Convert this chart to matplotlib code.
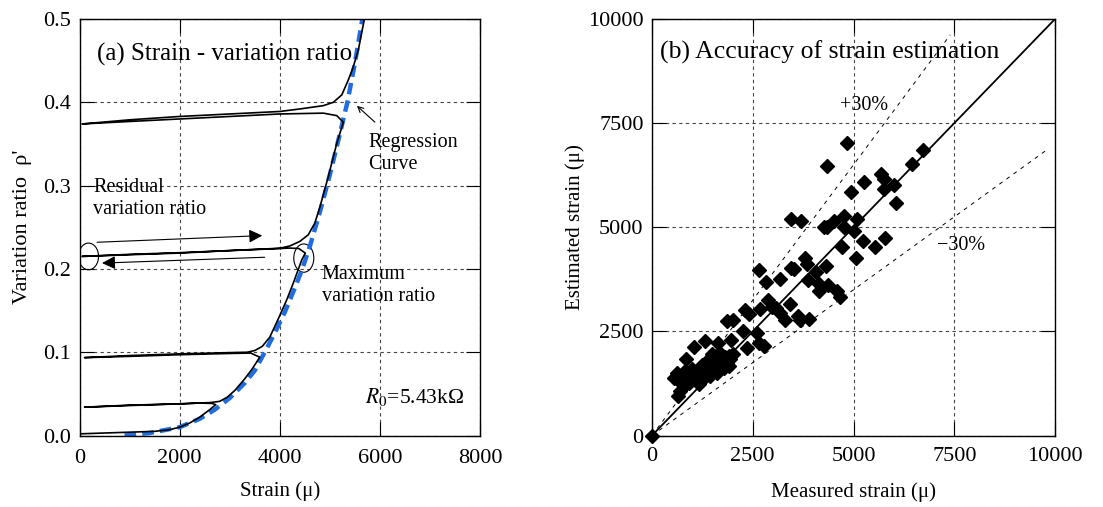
import matplotlib
matplotlib.use('Agg')
import matplotlib.pyplot as plt
from matplotlib.patches import Ellipse

plt.rcParams['font.family'] = ['Liberation Serif', 'DejaVu Serif']
plt.rcParams['mathtext.fontset'] = 'stix'

# ---------------------------------------------------------------------------
# (a) strain vs variation ratio -- measured loading / unloading path
# ---------------------------------------------------------------------------
strain_meas = [0, 500, 1000, 1500, 1800, 2000, 2200, 2400, 2600, 2720,
               2650, 2400, 2000, 1000, 100,
               1000, 2000, 2600, 2800, 2950, 3100, 3300, 3450, 3600,
               3420, 3000, 2000, 1000, 100,
               1000, 2000, 3000, 3350, 3500, 3650, 3800, 3970, 4140, 4270, 4440, 4510,
               4380, 4200, 3000, 2000, 1000, 50,
               1000, 2000, 3000, 4000, 4200, 4400, 4570, 4700, 4800, 4970, 5140, 5270,
               5140, 4870, 4000, 3000, 2000, 1000, 50,
               1000, 2000, 3000, 4000, 4400, 4870, 5070, 5240, 5370, 5470, 5570, 5690]
ratio_meas = [0.002, 0.003, 0.004, 0.005, 0.007, 0.010, 0.015, 0.022, 0.031, 0.037,
              0.0385, 0.039, 0.038, 0.036, 0.034,
              0.0365, 0.038, 0.0395, 0.041, 0.046, 0.054, 0.068, 0.080, 0.094,
              0.099, 0.0985, 0.097, 0.095, 0.0935,
              0.096, 0.098, 0.0995, 0.100, 0.102, 0.107, 0.118, 0.140, 0.163, 0.183, 0.211, 0.219,
              0.2245, 0.225, 0.222, 0.219, 0.217, 0.215,
              0.2175, 0.2195, 0.222, 0.2248, 0.2275, 0.233, 0.241, 0.255, 0.274, 0.311, 0.351, 0.376,
              0.384, 0.387, 0.386, 0.383, 0.380, 0.377, 0.374,
              0.379, 0.383, 0.386, 0.389, 0.392, 0.396, 0.400, 0.409, 0.427, 0.443, 0.463, 0.500]

# regression curve (blue dashed)
strain_reg = [900, 1400, 2000, 2400, 2700, 3000, 3300, 3500, 3700, 3900, 4100,
              4300, 4450, 4600, 4800, 5000, 5200, 5350, 5500, 5650]
ratio_reg = [0.0, 0.003, 0.010, 0.020, 0.031, 0.045, 0.063, 0.078, 0.100, 0.123, 0.148,
             0.177, 0.200, 0.227, 0.268, 0.313, 0.362, 0.400, 0.447, 0.500]

# ---------------------------------------------------------------------------
# (b) measured vs estimated strain
# ---------------------------------------------------------------------------
measured = [4835, 4339, 5264, 4926, 5686, 5769, 5760, 6017, 6058, 6446, 6719,
            3455, 3694, 4256, 4339, 4504, 4760, 4769, 5083, 5017, 5231, 5537, 5785, 4711,
            5058, 3802, 3843, 4074, 4314, 3860, 4132, 4364, 4149, 4587, 4653, 3455, 3512,
            2645, 2826, 3182, 2867, 2975, 3082, 3182, 3306, 3413, 3612, 3678, 3884, 2669,
            2397, 2314, 1860, 2004, 2256, 2355, 2603, 2661, 2769, 1959, 1628, 1322, 1033,
            851, 1488, 1529, 1694, 1818, 1942, 1901, 1777, 1612, 1446, 1364, 1198, 1116,
            992, 826, 620, 537, 661, 785, 702, 645, 909, 1157, 1281, 1694, 1860, 0,
            700, 800, 900, 1000, 1100, 1200, 1300, 1400, 1500, 1600, 1700, 1800, 1900,
            2000, 1250, 1450, 1550, 750]
estimated = [7030, 6460, 6084, 5851, 6284, 6148, 5907, 6003, 5594, 6509, 6846,
             5201, 5145, 5016, 5016, 5145, 5281, 5016, 5201, 4920, 4663, 4535, 4743, 4535,
             4255, 4271, 4111, 3934, 4071, 3726, 3630, 3614, 3470, 3470, 3333, 4014, 3990,
             3974, 3694, 3750, 3245, 3085, 3069, 2933, 2764, 3149, 2869, 2764, 2788, 3045,
             2909, 3013, 2748, 2764, 2508, 2107, 2468, 2212, 2147, 2292, 2228, 2268, 2123,
             1827, 1947, 1787, 1988, 1883, 1827, 1667, 1627, 1506, 1426, 1546, 1627, 1346,
             1466, 1546, 1506, 1386, 1306, 1186, 1066, 946, 1266, 1226, 1386, 1707, 1747, 0,
             1400, 1300, 1400, 1600, 1500, 1450, 1500, 1600, 1700, 1800, 1800, 1700, 1900,
             1950, 1700, 1850, 1650, 1450]

ref_x = [0, 10000]
ref_y = [0, 10000]
plus30_x = [0, 7400]
plus30_y = [0, 9620]
minus30_x = [0, 9800]
minus30_y = [0, 6860]

fig = plt.figure(figsize=(11.03, 5.07), dpi=100)
ax1 = fig.add_axes([0.0721, 0.141, 0.3631, 0.8215])
ax2 = fig.add_axes([0.5911, 0.141, 0.3654, 0.8215])

grid_kw = dict(color='#444444', linestyle=(0, (3, 3)), linewidth=0.8)
for ax in (ax1, ax2):
    ax.grid(True, **grid_kw)
    ax.set_axisbelow(True)
    ax.tick_params(direction='in', length=10, width=0.8, top=True, right=True,
                   labelsize=16, pad=6)
    for s in ax.spines.values():
        s.set_linewidth(1.0)
ax1.tick_params(axis='x', pad=10)
ax2.tick_params(axis='x', pad=8)

# ---- panel (a) ----
ax1.plot(strain_reg, ratio_reg, color='#1f6de0', linewidth=3.2,
         dashes=(2.6, 1.4), zorder=2)
ax1.plot(strain_meas, ratio_meas, color='black', linewidth=1.2, zorder=3)
ax1.set_xlim(0, 8000)
ax1.set_ylim(0, 0.5)
ax1.set_xticks([0, 2000, 4000, 6000, 8000])
ax1.set_yticks([0, 0.1, 0.2, 0.3, 0.4, 0.5])
ax1.set_yticklabels(['0.0', '0.1', '0.2', '0.3', '0.4', '0.5'])
ax1.set_xlabel('Strain (\u03bc)', fontsize=15, labelpad=9)
ax1.set_ylabel("Variation ratio  \u03c1'", fontsize=16, labelpad=8)

ax1.text(0.044, 0.914, '(a) Strain - variation ratio', transform=ax1.transAxes,
         fontsize=18, ha='left', va='center')
ax1.text(5763, 0.339, 'Regression\nCurve', fontsize=14.5, ha='left', va='center')
ax1.annotate('', xy=(5500, 0.398), xytext=(5940, 0.374),
             arrowprops=dict(arrowstyle='->', lw=0.8, color='black'))
ax1.text(270, 0.285, 'Residual\nvariation ratio', fontsize=14.5, ha='left', va='center')
ax1.text(4840, 0.180, 'Maximum\nvariation ratio', fontsize=14.5, ha='left', va='center')
ax1.text(5700, 0.046, r'$R_0$' + '=5.43k\u03a9', fontsize=15.5, ha='left', va='center')

ax1.annotate('', xy=(3650, 0.240), xytext=(350, 0.232),
             arrowprops=dict(arrowstyle='-|>', lw=0.8, color='black', mutation_scale=20,
                             shrinkA=0, shrinkB=0))
ax1.annotate('', xy=(450, 0.207), xytext=(3700, 0.214),
             arrowprops=dict(arrowstyle='-|>', lw=0.8, color='black', mutation_scale=20,
                             shrinkA=0, shrinkB=0))
ax1.add_patch(Ellipse((180, 0.215), 400, 0.032, fill=False, lw=0.8, color='black'))
ax1.add_patch(Ellipse((4480, 0.213), 400, 0.034, fill=False, lw=0.8, color='black'))

# ---- panel (b) ----
ax2.plot(ref_x, ref_y, color='black', linewidth=1.3, zorder=2)
ax2.plot(plus30_x, plus30_y, color='black', linewidth=0.7, dashes=(4, 5), zorder=2)
ax2.plot(minus30_x, minus30_y, color='black', linewidth=0.7, dashes=(4, 5), zorder=2)
ax2.plot(measured, estimated, linestyle='none', marker='D', markersize=7,
         color='black', zorder=3, clip_on=False)
ax2.set_xlim(0, 10000)
ax2.set_ylim(0, 10000)
ax2.set_xticks([0, 2500, 5000, 7500, 10000])
ax2.set_yticks([0, 2500, 5000, 7500, 10000])
ax2.set_xlabel('Measured strain (\u03bc)', fontsize=15, labelpad=12)
ax2.set_ylabel('Estimated strain (\u03bc)', fontsize=15, labelpad=2)
ax2.text(0.02, 0.921, '(b) Accuracy of strain estimation', transform=ax2.transAxes,
         fontsize=18.5, ha='left', va='center')
ax2.text(5261, 7935, '+30%', fontsize=14.5, ha='center', va='center')
ax2.text(7667, 4574, '\u221230%', fontsize=14.5, ha='center', va='center')

fig.savefig('out.png', dpi=100)
